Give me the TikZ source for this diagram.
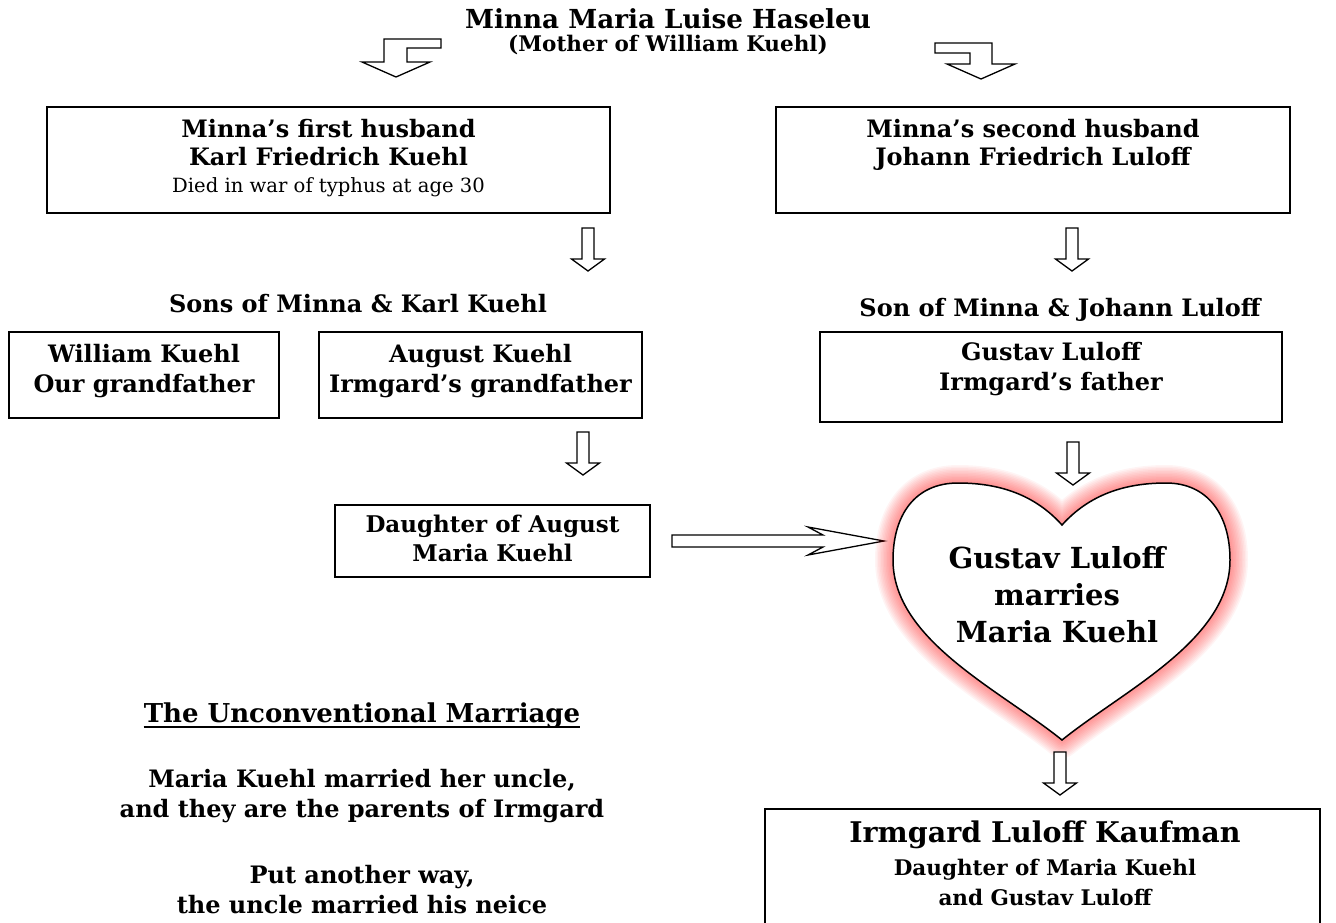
\documentclass[tikz,border=0pt]{standalone}
\usepackage{fontspec}
\setmainfont{DejaVu Serif}
\begin{document}
\begin{tikzpicture}[x=1pt,y=-1pt,
  box/.style={draw, line width=1.6pt, inner sep=0pt},
  arr/.style={draw, line width=1.3pt, line join=miter, fill=white},
  tA/.style={font=\bfseries\fontsize{26.2}{31}\selectfont, anchor=base, inner sep=0pt},
  tB/.style={font=\bfseries\fontsize{21.5}{25}\selectfont, anchor=base, inner sep=0pt},
  tb/.style={font=\bfseries\fontsize{24}{29}\selectfont, anchor=base, inner sep=0pt},
  tl/.style={font=\bfseries\fontsize{24}{29}\selectfont, anchor=base, inner sep=0pt},
  tr/.style={font=\fontsize{19.6}{23}\selectfont, anchor=base, inner sep=0pt},
  th/.style={font=\bfseries\fontsize{29}{34}\selectfont, anchor=base, inner sep=0pt},
  tu/.style={font=\bfseries\fontsize{26}{31}\selectfont, anchor=base, inner sep=0pt},
  ts/.style={font=\bfseries\fontsize{21.5}{25}\selectfont, anchor=base, inner sep=0pt},
  td/.style={font=\bfseries\fontsize{23}{28}\selectfont, anchor=base, inner sep=0pt},
  downarr/.pic={\path[arr] (-6,0) -- (6,0) -- (6,31) -- (16.5,31) -- (0,43) -- (-16.5,31) -- (-6,31) -- cycle;}
]
\useasboundingbox (0,0) rectangle (1336,922);

% title
\node[tA] (title) at (668,28) {Minna Maria Luise Haseleu};
\node[tB] (sub) at (668,51) {(Mother of William Kuehl)};

% bent arrows
\draw[arr] (396,77) -- (362,62) -- (384,62) -- (384,39) -- (441,39) -- (441,48) -- (407,48) -- (407,62) -- (430,62) -- cycle;
\draw[arr] (981,79) -- (947,64) -- (970,64) -- (970,53) -- (935,53) -- (935,43) -- (992,43) -- (992,64) -- (1015,64) -- cycle;

% first row boxes
\node[box, minimum width=563pt, minimum height=106pt] (b1) at (328.5,160) {};
\node[tb] (b1a) at (328.5,137) {Minna’s first husband};
\node[tb] (b1b) at (328.5,165) {Karl Friedrich Kuehl};
\node[tr] (b1c) at (328.5,192) {Died in war of typhus at age 30};

\node[box, minimum width=514pt, minimum height=106pt] (b2) at (1033,160) {};
\node[tb] (b2a) at (1033,137) {Minna’s second husband};
\node[tb] (b2b) at (1033,165) {Johann Friedrich Luloff};

\pic (a1) at (588,228) {downarr};
\pic (a2) at (1072,228) {downarr};

\node[tb] (sons) at (358,312) {Sons of Minna \& Karl Kuehl};
\node[tb] (son) at (1060,316) {Son of Minna \& Johann Luloff};

% second row
\node[box, minimum width=270pt, minimum height=86pt] (w) at (144,375) {};
\node[tb] (wa) at (144,362) {William Kuehl};
\node[tb] (wb) at (144,392) {Our grandfather};

\node[box, minimum width=323pt, minimum height=86pt] (au) at (480.5,375) {};
\node[tb] (aua) at (480.5,362) {August Kuehl};
\node[tb] (aub) at (480.5,392) {Irmgard’s grandfather};

\node[box, minimum width=462pt, minimum height=90pt] (g) at (1051,377) {};
\node[tb] (ga) at (1051,360) {Gustav Luloff};
\node[tb] (gb) at (1051,390) {Irmgard’s father};

\pic (a3) at (583,432) {downarr};
\pic (a4) at (1073,442) {downarr};

% daughter box
\node[box, minimum width=315pt, minimum height=72pt] (d) at (492.5,541) {};
\node[td] (da) at (492.5,532) {Daughter of August};
\node[td] (db) at (492.5,561) {Maria Kuehl};

\draw[arr] (672,535) -- (823,535) -- (808,527) -- (884,541) -- (808,555) -- (823,547) -- (672,547) -- cycle;

% heart glow
\foreach \w in {36,33,30,27,24,21,18,15,12,9,6,3}{
  \draw[red, line width=\w pt, opacity=0.045, line join=round]
    (1062,525) .. controls (1035,495) and (1000,483) .. (958,483)
    .. controls (915,483) and (893,515) .. (893,560)
    .. controls (893,640) and (1000,690) .. (1062,740)
    .. controls (1124,690) and (1230,640) .. (1230,560)
    .. controls (1230,515) and (1208,483) .. (1166,483)
    .. controls (1124,483) and (1089,495) .. (1062,525) -- cycle;
}
\draw[line width=1.5pt, fill=white]
    (1062,525) .. controls (1035,495) and (1000,483) .. (958,483)
    .. controls (915,483) and (893,515) .. (893,560)
    .. controls (893,640) and (1000,690) .. (1062,740)
    .. controls (1124,690) and (1230,640) .. (1230,560)
    .. controls (1230,515) and (1208,483) .. (1166,483)
    .. controls (1124,483) and (1089,495) .. (1062,525) -- cycle;
\node[th] (ha) at (1057,568) {Gustav Luloff};
\node[th] (hb) at (1057,605) {marries};
\node[th] (hc) at (1057,642) {Maria Kuehl};

\pic (a5) at (1060,752) {downarr};

% Irmgard box
\node[box, minimum width=555pt, minimum height=121pt] (ir) at (1042.5,869.5) {};
\node[th, font=\bfseries\fontsize{28.5}{34}\selectfont] (ira) at (1045,842) {Irmgard Luloff Kaufman};
\node[ts] (irb) at (1045,875) {Daughter of Maria Kuehl};
\node[ts] (irc) at (1045,905) {and Gustav Luloff};

% left text
\node[tu] (ut) at (362,722) {The Unconventional Marriage};
\draw[line width=1.3pt] ([yshift=-5pt]ut.base west) -- ([yshift=-5pt]ut.base east);
\node[tl] (l1) at (362,787) {Maria Kuehl married her uncle,};
\node[tl] (l2) at (362,817) {and they are the parents of Irmgard};
\node[tl] (l3) at (362,883) {Put another way,};
\node[tl] (l4) at (362,913) {the uncle married his neice};
\end{tikzpicture}
\end{document}
